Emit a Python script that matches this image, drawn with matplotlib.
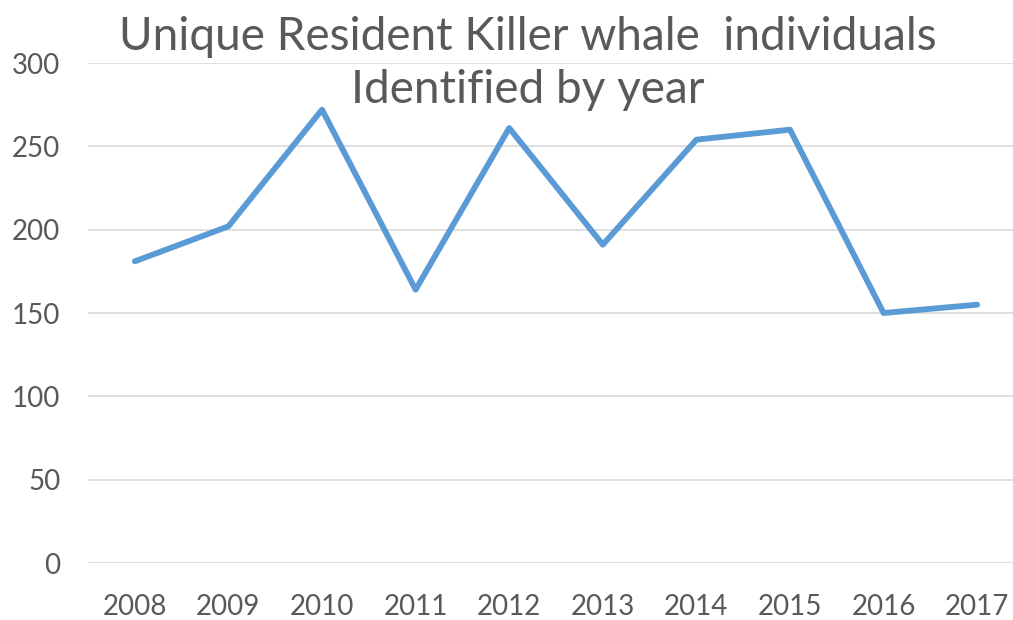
import matplotlib.pyplot as plt

years = ['2008', '2009', '2010', '2011', '2012', '2013', '2014', '2015', '2016', '2017']
counts = [181, 202, 272, 164, 261, 191, 254, 260, 150, 155]
yticks = [0, 50, 100, 150, 200, 250, 300]
title_lines = ['Unique Resident Killer whale  individuals', 'Identified by year']

plt.rcParams['font.family'] = ['Lato', 'DejaVu Sans']
txt = '#595959'

fig = plt.figure(figsize=(10.13, 6.2), dpi=100)
ax = fig.add_axes([88/1013, 57/620, 936/1013, 500/620])

x = range(len(years))
ax.plot(x, counts, color='#5B9BD5', lw=4.2, solid_joinstyle='round',
        solid_capstyle='round', zorder=3)

ax.set_xlim(-0.5, len(years) - 0.5)
ax.set_ylim(0, 300)
ax.set_yticks(yticks)
ax.set_xticks(list(x))
ax.set_xticklabels(years)
ax.grid(axis='y', color='#D9D9D9', lw=1.2)
ax.set_axisbelow(True)
for s in ax.spines.values():
    s.set_visible(False)
ax.tick_params(length=0, labelsize=20, labelcolor=txt)
ax.tick_params(axis='x', pad=22)
ax.tick_params(axis='y', pad=20)

# two title lines, sitting over the top of the plot area
fig.text(528/1013, 1 - 50/620, title_lines[0], ha='center', va='baseline',
         fontsize=33, color=txt)
fig.text(528/1013, 1 - 103/620, title_lines[1], ha='center', va='baseline',
         fontsize=33, color=txt)

fig.savefig('out.png', dpi=100)
